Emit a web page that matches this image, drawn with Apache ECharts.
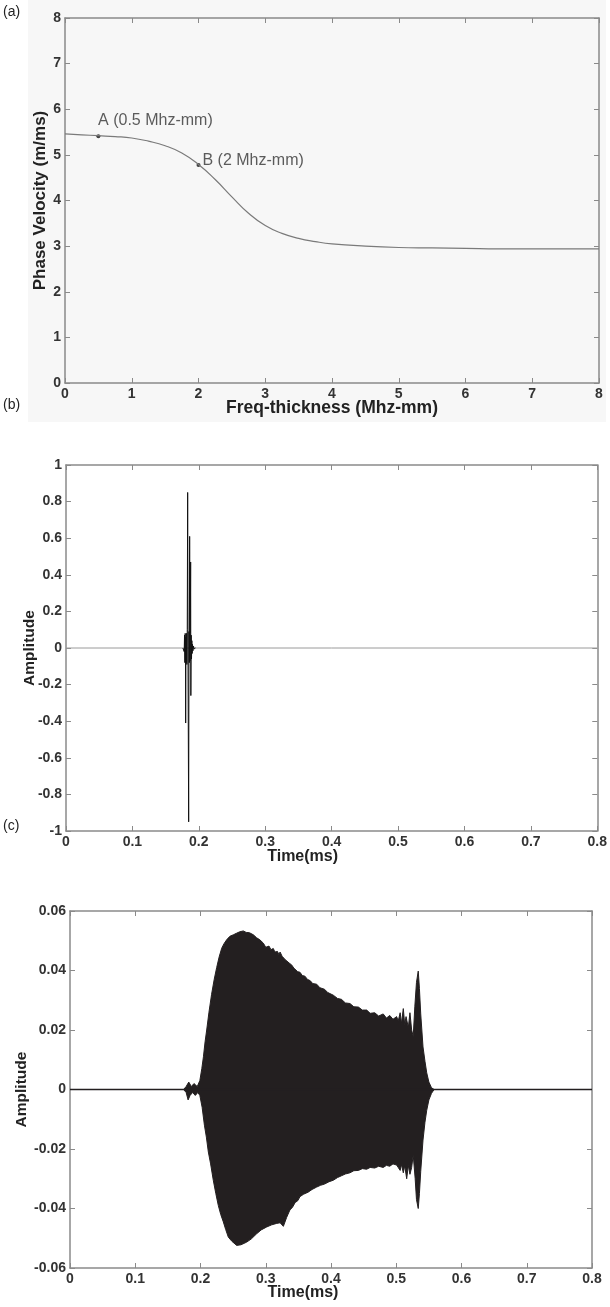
<!DOCTYPE html>
<html>
<head>
<meta charset="utf-8">
<script src="https://cdn.jsdelivr.net/npm/echarts@6/dist/echarts.min.js"></script>
<style>
html,body{margin:0;padding:0;background:#fff;}
#tu{width:610px;height:1307px;}
</style>
</head>
<body>
<div id="tu"></div>
<script>
// (a) 频厚积 - 相速度
var fd = [0,0.25,0.5,0.75,1,1.25,1.5,1.75,2,2.25,2.5,2.75,3,3.25,3.5,3.75,4,4.5,5,5.5,6,6.5,7,7.5,8];
var vp = [5.46,5.44,5.42,5.40,5.37,5.30,5.20,5.04,4.79,4.46,4.08,3.72,3.45,3.28,3.17,3.10,3.05,3.00,2.97,2.96,2.95,2.94,2.94,2.94,2.94];
var pointA = [0.5, 5.41];
var pointB = [2, 4.78];

// (b) 激励信号 (只有脉冲段, 基线另画)
var tB = [0.176,0.1775,0.178,0.1785,0.179,0.1795,0.1800,0.1802,0.1806,0.1810,0.1815,0.1820,0.1826,0.1832,0.1838,0.1847,0.1852,0.1857,0.1862,0.1867,0.1872,0.1877,0.1880,0.1885,0.1890,0.1895,0.1900,0.1905,0.1912,0.1920,0.1930,0.195];
var ampB = [0,0.005,-0.02,0.07,-0.08,0.08,-0.07,-0.41,0.06,-0.08,0.08,-0.09,0.10,0.85,-0.12,-0.95,0.09,-0.08,0.61,-0.07,0.08,0.47,-0.26,0.07,-0.06,0.04,-0.03,0.02,-0.015,0.01,-0.005,0];

// (c) 响应信号包络 (上/下)
var tUp = [0,0.174,0.178,0.182,0.186,0.190,0.195,0.199,0.202,0.2045,0.207,0.2095,0.213,0.217,0.221,0.2248,0.2285,0.2325,0.236,0.240,0.245,0.2503,0.255,0.260,0.2656,0.270,0.275,0.281,0.286,0.291,0.2963,0.300,0.303,0.305,0.308,0.3116,0.314,0.318,0.320,0.322,0.325,0.327,0.330,0.333,0.336,0.340,0.343,0.346,0.349,0.3525,0.356,0.36,0.364,0.368,0.372,0.378,0.383,0.39,0.395,0.4035,0.41,0.416,0.422,0.429,0.435,0.442,0.448,0.4547,0.46,0.467,0.473,0.480,0.485,0.490,0.495,0.5006,0.503,0.506,0.508,0.5108,0.513,0.515,0.5185,0.521,0.5236,0.526,0.5285,0.531,0.5337,0.5355,0.5375,0.541,0.544,0.5467,0.550,0.554,0.558,0.8];
var ampUp = [0,0,0.001,0.0025,0.001,0.002,0.001,0.003,0.007,0.011,0.016,0.020,0.026,0.032,0.037,0.041,0.0445,0.0475,0.049,0.0503,0.0515,0.052,0.0525,0.053,0.0533,0.0528,0.0527,0.052,0.051,0.0503,0.0492,0.0478,0.0472,0.0482,0.0470,0.0474,0.0462,0.0464,0.0454,0.0462,0.0448,0.0449,0.0436,0.0438,0.0425,0.0418,0.0408,0.0406,0.0396,0.0394,0.0383,0.0381,0.0370,0.0366,0.0356,0.0354,0.0342,0.0337,0.0326,0.0317,0.0306,0.0303,0.0291,0.0289,0.0278,0.0277,0.0267,0.0267,0.0256,0.0258,0.0247,0.0254,0.0240,0.0249,0.0236,0.0245,0.0230,0.0258,0.0222,0.0272,0.0218,0.0245,0.0208,0.0258,0.0200,0.0178,0.028,0.036,0.0398,0.034,0.0254,0.0143,0.0095,0.0056,0.0025,0.0006,0,0];
var tLow = [0,0.174,0.178,0.181,0.184,0.188,0.192,0.196,0.199,0.2025,0.206,0.209,0.212,0.2155,0.2196,0.2235,0.2273,0.231,0.235,0.2385,0.2426,0.248,0.2554,0.262,0.2708,0.278,0.286,0.293,0.3015,0.309,0.3168,0.322,0.327,0.332,0.337,0.341,0.345,0.349,0.3525,0.358,0.365,0.371,0.378,0.384,0.39,0.397,0.4035,0.41,0.416,0.422,0.429,0.435,0.442,0.448,0.4547,0.46,0.467,0.473,0.480,0.485,0.490,0.495,0.5006,0.503,0.506,0.508,0.5108,0.513,0.516,0.5185,0.521,0.5236,0.526,0.529,0.531,0.5337,0.5355,0.5375,0.541,0.544,0.5467,0.550,0.554,0.558,0.8];
var ampLow = [0,0,-0.001,-0.0035,-0.002,-0.001,-0.002,-0.001,-0.002,-0.006,-0.012,-0.016,-0.021,-0.025,-0.0305,-0.035,-0.039,-0.042,-0.0445,-0.047,-0.0496,-0.051,-0.0524,-0.0522,-0.0513,-0.0502,-0.0485,-0.0472,-0.0462,-0.0455,-0.045,-0.0448,-0.046,-0.043,-0.0405,-0.0396,-0.0380,-0.0374,-0.0360,-0.0352,-0.0345,-0.0336,-0.0328,-0.0322,-0.0318,-0.0310,-0.0305,-0.0296,-0.0290,-0.0284,-0.0280,-0.0273,-0.0272,-0.0266,-0.0268,-0.0262,-0.0264,-0.0258,-0.0262,-0.0255,-0.0258,-0.0250,-0.0254,-0.0262,-0.0272,-0.0252,-0.0280,-0.0256,-0.030,-0.0255,-0.0285,-0.0262,-0.022,-0.030,-0.037,-0.040,-0.035,-0.0275,-0.017,-0.011,-0.007,-0.0035,-0.0013,0,0];

function pairs(xs, ys){
  var out = [];
  for (var i = 0; i < xs.length; i++) out.push([xs[i], ys[i]]);
  return out;
}

var ziti = 'Liberation Sans, Arial, sans-serif';
var huise = '#8a8a8a';

// 底/左 有刻度标签, 顶/右 只画刻度 (MATLAB 风格的框)
function xAxes(gi, max, interval, name, gap, size, pad){
  return [{
    type:'value', gridIndex:gi, min:0, max:max, interval:interval, position:'bottom',
    name:name, nameLocation:'middle', nameGap:gap, nameMoveOverlap:false,
    nameTextStyle:{fontFamily:ziti, fontWeight:'bold', fontSize:size, color:'#222', padding:pad},
    axisLine:{show:true, onZero:false, lineStyle:{color:huise, width:1.5}},
    axisTick:{show:true, inside:true, length:5, lineStyle:{color:huise}},
    axisLabel:{fontFamily:ziti, fontWeight:'bold', fontSize:14, color:'#333', margin:4},
    splitLine:{show:false}
  },{
    type:'value', gridIndex:gi, min:0, max:max, interval:interval, position:'top',
    axisLine:{show:true, onZero:false, lineStyle:{color:huise, width:1.5}},
    axisTick:{show:true, inside:true, length:5, lineStyle:{color:huise}},
    axisLabel:{show:false}, splitLine:{show:false}
  }];
}
function yAxes(gi, min, max, interval, name, gap, size){
  return [{
    type:'value', gridIndex:gi, min:min, max:max, interval:interval, position:'left',
    name:name, nameLocation:'middle', nameGap:gap, nameMoveOverlap:false,
    nameTextStyle:{fontFamily:ziti, fontWeight:'bold', fontSize:size, color:'#222'},
    axisLine:{show:true, onZero:false, lineStyle:{color:huise, width:1.5}},
    axisTick:{show:true, inside:true, length:5, lineStyle:{color:huise}},
    axisLabel:{fontFamily:ziti, fontWeight:'bold', fontSize:14, color:'#333', margin:4},
    splitLine:{show:false}
  },{
    type:'value', gridIndex:gi, min:min, max:max, interval:interval, position:'right',
    axisLine:{show:true, onZero:false, lineStyle:{color:huise, width:1.5}},
    axisTick:{show:true, inside:true, length:5, lineStyle:{color:huise}},
    axisLabel:{show:false}, splitLine:{show:false}
  }];
}

var myChart = echarts.init(document.getElementById('tu'), null, {renderer:'canvas'});
var option = {
  animation:false,
  backgroundColor:'#fff',
  graphic:[
    {type:'rect', z:-10, silent:true, shape:{x:28, y:0, width:578, height:422}, style:{fill:'#f7f7f7'}},
    {type:'text', left:3, top:5, style:{text:'(a)', font:'14px ' + ziti, fill:'#222'}},
    {type:'text', left:3, top:398, style:{text:'(b)', font:'14px ' + ziti, fill:'#222'}},
    {type:'text', left:3, top:819, style:{text:'(c)', font:'14px ' + ziti, fill:'#222'}}
  ],
  grid:[
    {left:65, top:18, width:534, height:365},
    {left:66, top:465, width:534, height:366},
    {left:70, top:911, width:522, height:357}
  ],
  xAxis: [].concat(
    xAxes(0, 8, 1, 'Freq-thickness (Mhz-mm)', 16, 17.5, 0),
    xAxes(1, 0.8, 0.1, 'Time(ms)', 18, 16, [0, 58, 0, 0]),
    xAxes(2, 0.8, 0.1, 'Time(ms)', 17, 16, [0, 56, 0, 0])
  ),
  yAxis: [].concat(
    yAxes(0, 0, 8, 1, 'Phase Velocity (m/ms)', 16, 17),
    yAxes(1, -1, 1, 0.2, 'Amplitude', 28, 15.5),
    yAxes(2, -0.06, 0.06, 0.02, 'Amplitude', 40, 15.5)
  ),
  series:[
    {
      type:'line', xAxisIndex:0, yAxisIndex:0, smooth:true, showSymbol:false,
      data:pairs(fd, vp),
      lineStyle:{color:'#7a7a7a', width:1.2}
    },
    {
      type:'scatter', xAxisIndex:0, yAxisIndex:0, symbolSize:4,
      itemStyle:{color:'#111'},
      data:[
        {value:pointA, label:{show:true, position:'top', offset:[57,-1], formatter:'A (0.5 Mhz-mm)'}},
        {value:pointB, label:{show:true, position:'right', offset:[-3,-4], formatter:'B (2 Mhz-mm)'}}
      ],
      label:{fontFamily:ziti, fontSize:16, color:'#333'}
    },
    {
      type:'line', xAxisIndex:2, yAxisIndex:2, showSymbol:false,
      data:[[0,0],[0.8,0]],
      lineStyle:{color:'#9a9a9a', width:1}
    },
    {
      type:'line', xAxisIndex:2, yAxisIndex:2, showSymbol:false,
      data:pairs(tB, ampB),
      lineStyle:{color:'#111', width:1}
    },
    {
      type:'line', xAxisIndex:4, yAxisIndex:4, showSymbol:false,
      data:pairs(tUp, ampUp),
      lineStyle:{color:'#231f20', width:1},
      areaStyle:{color:'#231f20', opacity:1, origin:0}
    },
    {
      type:'line', xAxisIndex:4, yAxisIndex:4, showSymbol:false,
      data:pairs(tLow, ampLow),
      lineStyle:{color:'#231f20', width:1},
      areaStyle:{color:'#231f20', opacity:1, origin:0}
    },
    {
      type:'line', xAxisIndex:4, yAxisIndex:4, showSymbol:false, z:5,
      data:[[0,0],[0.8,0]],
      lineStyle:{color:'#231f20', width:1.6}
    }
  ]
};
myChart.setOption(option);
</script>
</body>
</html>
